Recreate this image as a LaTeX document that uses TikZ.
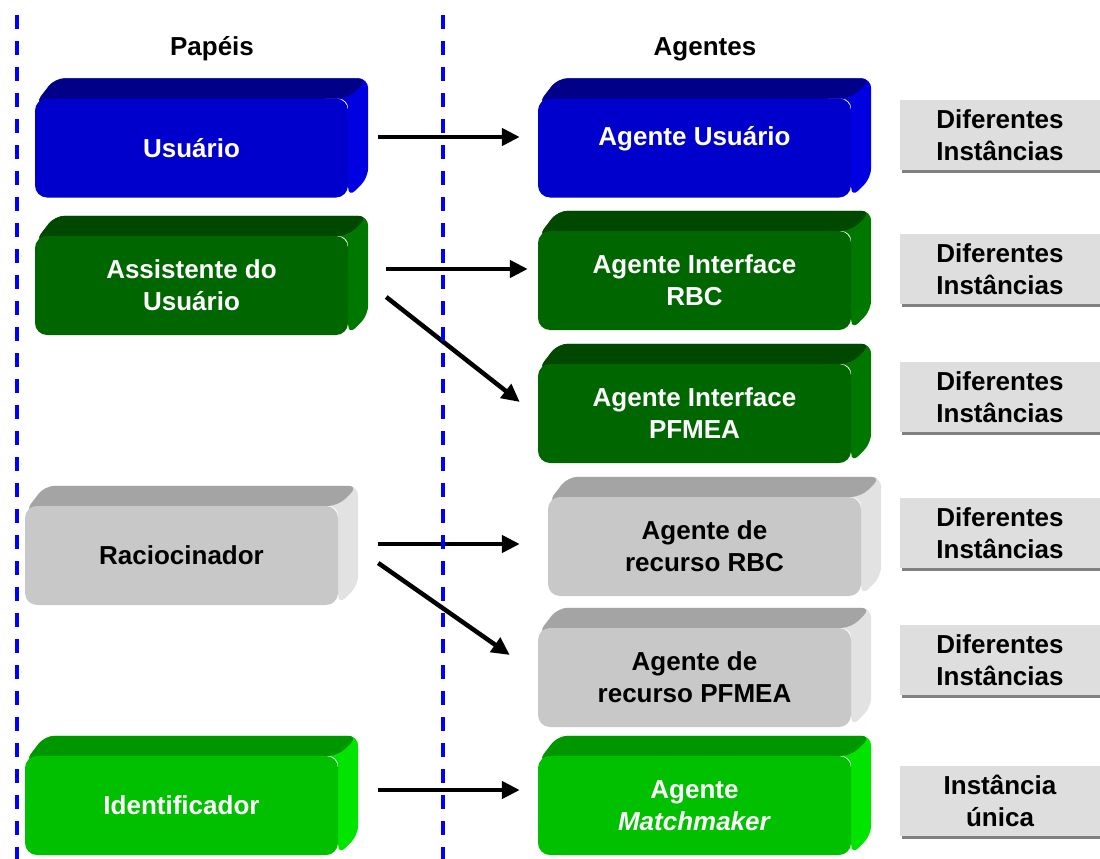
\documentclass[tikz,border=0pt]{standalone}
\usepackage{fontspec}
\setmainfont{Liberation Sans}
\usetikzlibrary{arrows.meta,calc,backgrounds,shadows}

\definecolor{azulF}{HTML}{0000CC}
\definecolor{azulT}{HTML}{000088}
\definecolor{azulS}{HTML}{0000E0}
\definecolor{verdeF}{HTML}{006600}
\definecolor{verdeT}{HTML}{004800}
\definecolor{verdeS}{HTML}{007800}
\definecolor{cinzaF}{HTML}{C8C8C8}
\definecolor{cinzaT}{HTML}{A4A4A4}
\definecolor{cinzaS}{HTML}{E2E2E2}
\definecolor{claroF}{HTML}{00C000}
\definecolor{claroT}{HTML}{009600}
\definecolor{claroS}{HTML}{00E400}

\begin{document}
\begin{tikzpicture}[
  x=1pt, y=-1pt,
  every node/.style={font=\fontsize{26}{32}\selectfont\bfseries, align=center},
  caixa/.style={rectangle, rounded corners=12pt, minimum width=313pt,
                minimum height=99pt, inner sep=0pt, fill=#1F, text=white},
  cinza/.style={caixa=cinza, text=black},
  inst/.style={rectangle, fill=black!13, minimum width=200pt, minimum height=70pt,
               inner sep=0pt, general shadow={fill=black!50, shadow xshift=2pt, shadow yshift=-3pt}},
  seta/.style={line width=4.5pt, -{Triangle[length=18pt,width=17pt]}},
  divisa/.style={blue, line width=3.5pt, dash pattern=on 14pt off 12pt}
  ]
  \useasboundingbox (0,0) rectangle (1100,859);

  \node (pp) at (212,49) {Papéis};
  \node (ag0) at (705,49) {Agentes};

  % papeis
  \node[caixa=azul] (u) at (191.5,148) {Usuário};
  \node[caixa=verde] (a) at (191.5,285.5) {Assistente do\\Usuário};
  \node[cinza] (r) at (181.5,555.5) {Raciocinador};
  \node[caixa=claro] (i) at (181.5,805.5) {Identificador};

  % agentes
  \node[caixa=azul, text depth=25pt] (au) at (694.5,148) {Agente Usuário};
  \node[caixa=verde] (ai) at (694.5,280.5) {Agente Interface\\RBC};
  \node[caixa=verde] (ap) at (694.5,413.5) {Agente Interface\\PFMEA};
  \node[cinza] (ar) at (704.5,546.5) {Agente de\\recurso RBC};
  \node[cinza] (ag) at (694.5,677.5) {Agente de\\recurso PFMEA};
  \node[caixa=claro] (am) at (694.5,805.5) {Agente\\\textit{Matchmaker}};

  \begin{scope}[on background layer]
    \foreach \n/\cor in {u/azul,a/verde,r/cinza,i/claro,au/azul,ai/verde,ap/verde,ar/cinza,ag/cinza,am/claro}{
      \fill[fill=\cor S, rounded corners=10pt] ([yshift=-6pt]\n.north west) -- ($(\n.north west)+(20,-20)$)
        -- ($(\n.north east)+(20,-20)$) -- ($(\n.south east)+(20,-20)$) -- (\n.south east)
        -- (\n.north east) -- cycle;
      \fill[fill=\cor T, rounded corners=10pt] ([yshift=-6pt]\n.north west) -- ($(\n.north west)+(20,-20)$)
        -- ($(\n.north east)+(20,-20)$) -- (\n.north east) -- cycle;
    }
  \end{scope}

  % instancias
  \node[inst] (d1) at (1000,135) {Diferentes\\Instâncias};
  \node[inst] (d2) at (1000,269) {Diferentes\\Instâncias};
  \node[inst] (d3) at (1000,397) {Diferentes\\Instâncias};
  \node[inst] (d4) at (1000,533) {Diferentes\\Instâncias};
  \node[inst] (d5) at (1000,660) {Diferentes\\Instâncias};
  \node[inst] (d6) at (1000,801) {Instância\\única};

  \draw[seta] ([xshift=30pt,yshift=11pt]u.east) -- ([xshift=-18pt,yshift=11pt]au.west);
  \draw[seta] ([xshift=38pt,yshift=16.5pt]a.east) -- ([xshift=-10pt,yshift=11.5pt]ai.west);
  \draw[seta] ([xshift=38pt,yshift=-11.5pt]a.east) -- ([xshift=-18pt,yshift=11.5pt]ap.west);
  \draw[seta] ([xshift=40pt,yshift=11.5pt]r.east) -- ([xshift=-28pt,yshift=2.5pt]ar.west);
  \draw[seta] ([xshift=40pt,yshift=-7.5pt]r.east) -- ([xshift=-28pt,yshift=22.5pt]ag.west);
  \draw[seta] ([xshift=40pt,yshift=15.5pt]i.east) -- ([xshift=-18pt,yshift=15.5pt]am.west);

  \draw[divisa] (17,15) -- (17,859);
  \draw[divisa] (443,15) -- (443,859);
\end{tikzpicture}
\end{document}
